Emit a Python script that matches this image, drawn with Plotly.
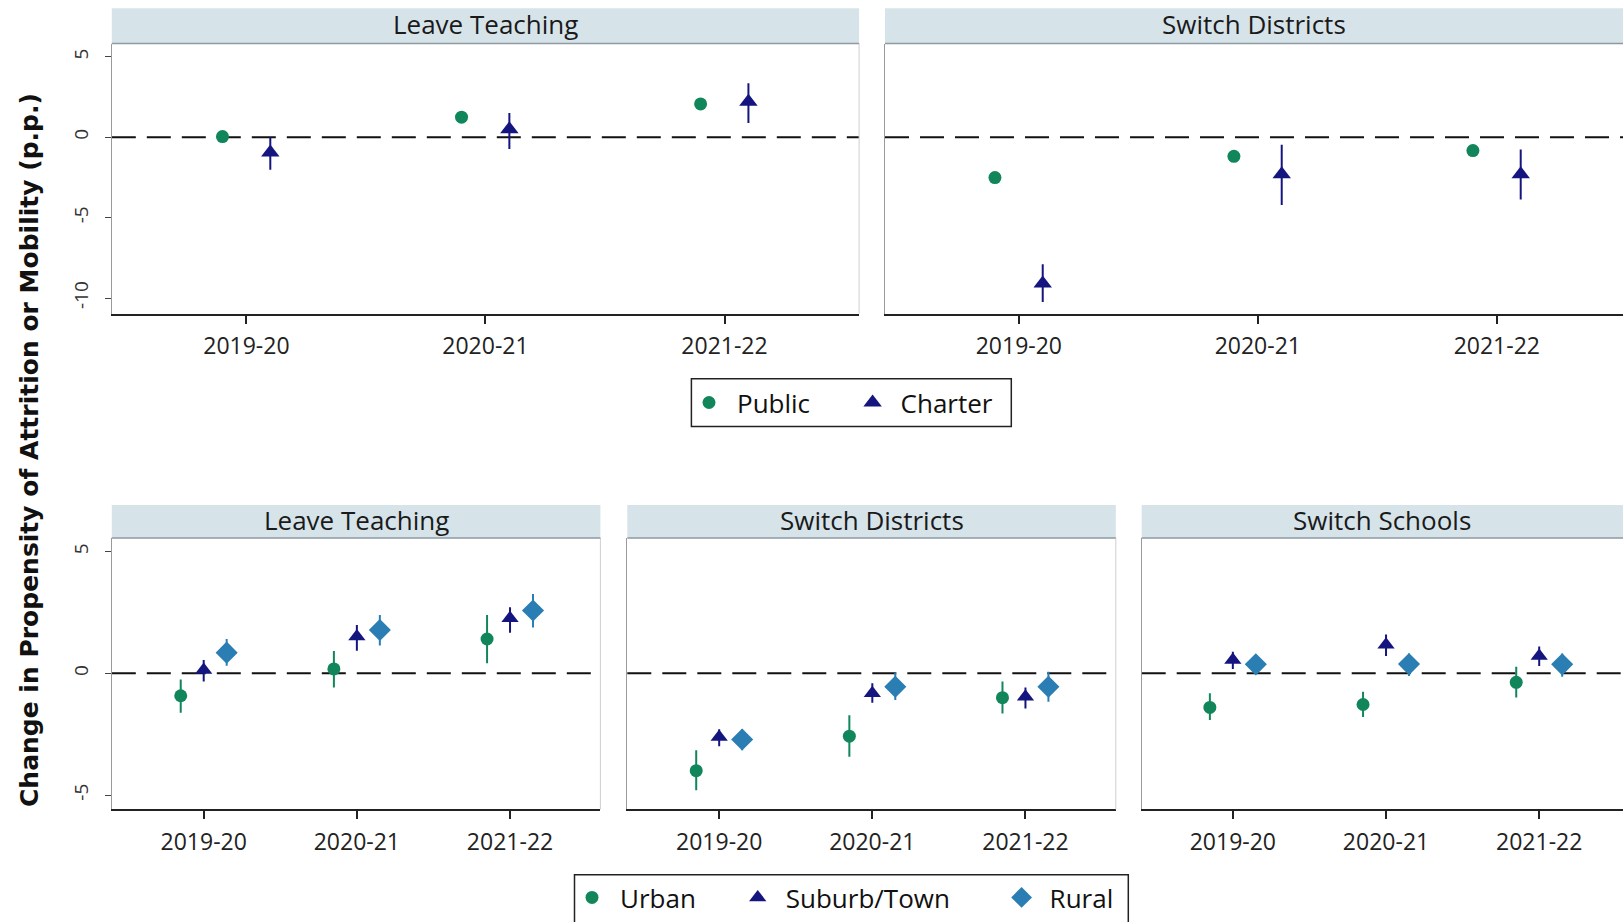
import plotly.graph_objects as go

OFF = 0  # body margin removed by post_script below
W, H = 1623, 922

years = ["2019-20", "2020-21", "2021-22"]

# ---- Top row: Public vs Charter ----
lt_public = [0.04, 1.25, 2.07]
lt_public_lo = [-0.18, 1.05, 1.87]
lt_public_hi = [0.26, 1.45, 2.27]
lt_charter = [-0.95, 0.50, 2.20]
lt_charter_lo = [-2.03, -0.73, 0.88]
lt_charter_hi = [0.00, 1.50, 3.35]

sd_public = [-2.51, -1.19, -0.83]
sd_public_lo = [-2.71, -1.39, -1.03]
sd_public_hi = [-2.31, -0.99, -0.63]
sd_charter = [-9.10, -2.30, -2.30]
sd_charter_lo = [-10.25, -4.22, -3.87]
sd_charter_hi = [-7.90, -0.46, -0.77]

# ---- Bottom row: Urban / Suburb-Town / Rural ----
lt_urban = [-0.92, 0.18, 1.41]
lt_urban_lo = [-1.62, -0.58, 0.41]
lt_urban_hi = [-0.25, 0.92, 2.40]
lt_suburb = [0.14, 1.51, 2.26]
lt_suburb_lo = [-0.34, 0.93, 1.67]
lt_suburb_hi = [0.55, 1.99, 2.72]
lt_rural = [0.85, 1.78, 2.58]
lt_rural_lo = [0.31, 1.14, 1.88]
lt_rural_hi = [1.41, 2.40, 3.26]

sdb_urban = [-4.00, -2.58, -1.00]
sdb_urban_lo = [-4.80, -3.43, -1.65]
sdb_urban_hi = [-3.16, -1.72, -0.34]
sdb_suburb = [-2.62, -0.82, -0.96]
sdb_suburb_lo = [-3.00, -1.21, -1.44]
sdb_suburb_hi = [-2.30, -0.41, -0.58]
sdb_rural = [-2.72, -0.55, -0.55]
sdb_rural_lo = [-3.16, -1.10, -1.17]
sdb_rural_hi = [-2.30, 0.03, 0.07]

ss_urban = [-1.40, -1.28, -0.37]
ss_urban_lo = [-1.92, -1.79, -0.99]
ss_urban_hi = [-0.82, -0.76, 0.27]
ss_suburb = [0.55, 1.17, 0.71]
ss_suburb_lo = [0.18, 0.71, 0.30]
ss_suburb_hi = [0.89, 1.60, 1.10]
ss_rural = [0.37, 0.38, 0.37]
ss_rural_lo = [0.00, -0.11, -0.14]
ss_rural_hi = [0.75, 0.82, 0.82]

top_titles = ["Leave Teaching", "Switch Districts"]
bot_titles = ["Leave Teaching", "Switch Districts", "Switch Schools"]
top_yticks = [5, 0, -5, -10]
bot_yticks = [5, 0, -5]

GREEN = "#11865a"
NAVY = "#15157f"
STEEL = "#2a7eb3"
STRIP = "#d6e4ea"
FONT = "Open Sans"

fig = go.Figure()


def fx(px):
    return min(max((px - OFF) / W, 0.0), 1.0)


def fy(py):
    return 1 - (py - OFF) / H


def px_x(a, b):
    return [fx(a), fx(b)]


def px_y(top, bottom):
    return [fy(bottom), fy(top)]


top_y = px_y(43.5, 313.6)
top_strip = px_y(8.3, 43.5)
bot_y = px_y(538.0, 809.4)
bot_strip = px_y(505.0, 538.0)

panels = [
    ("", px_x(111.8, 859.1), top_y, top_strip, [-0.563, 2.563], [-10.97, 5.83], top_titles[0], top_yticks),
    ("2", px_x(885.0, 1623), top_y, top_strip, [-0.56, 2.528], [-10.97, 5.83], top_titles[1], top_yticks),
    ("3", px_x(111.8, 600.4), bot_y, bot_strip, [-0.60, 2.59], [-5.59, 5.56], bot_titles[0], bot_yticks),
    ("4", px_x(627.3, 1115.8), bot_y, bot_strip, [-0.60, 2.59], [-5.59, 5.56], bot_titles[1], bot_yticks),
    ("5", px_x(1141.7, 1623), bot_y, bot_strip, [-0.595, 2.547], [-5.59, 5.56], bot_titles[2], bot_yticks),
]

layout = {}
shapes = []
annotations = []
for pid, xd, yd, sd, xr, yr, title, yt in panels:
    first = pid in ("", "3")
    layout["xaxis" + pid] = dict(
        domain=xd, range=xr, anchor="y" + pid, tickmode="array",
        tickvals=[0, 1, 2], ticktext=years, ticks="outside", ticklen=8,
        tickwidth=1.5, tickcolor="#222", showline=True, linecolor="#222",
        linewidth=2, showgrid=False, zeroline=False, fixedrange=True,
        ticklabelstandoff=3,
        tickfont=dict(family=FONT, size=23, color="#222"),
    )
    layout["yaxis" + pid] = dict(
        domain=yd, range=yr, anchor="x" + pid, tickmode="array",
        tickvals=yt, ticktext=[str(v) for v in yt],
        ticks="outside" if first else "", ticklen=6, tickcolor="#444",
        tickangle=-90, showline=True, linecolor="#9a9a9a", linewidth=1,
        showgrid=False, zeroline=False, ticklabelstandoff=9,
        tickfont=dict(family=FONT, size=19, color="#333"), fixedrange=True,
        showticklabels=first,
    )
    xdom = ("x" + pid if pid else "x") + " domain"
    ydom = ("y" + pid if pid else "y") + " domain"
    # right border of plot area (only for panels fully inside the picture)
    if xd[1] < 0.999:
        shapes.append(dict(type="line", xref=xdom, yref=ydom, x0=1, x1=1, y0=0, y1=1,
                           line=dict(color="#cfcfcf", width=1)))
    # strip
    shapes.append(dict(type="rect", xref="paper", yref="paper", x0=xd[0], x1=xd[1],
                       y0=sd[0], y1=sd[1], fillcolor=STRIP, line=dict(width=0), layer="below"))
    shapes.append(dict(type="line", xref="paper", yref="paper", x0=xd[0], x1=xd[1],
                       y0=sd[0], y1=sd[0], line=dict(color="#8e9aa3", width=1.5)))
    annotations.append(dict(text=title, xref="paper", yref="paper", x=(xd[0] + xd[1]) / 2,
                            y=(sd[0] + sd[1]) / 2, yshift=2, showarrow=False, xanchor="center",
                            yanchor="middle", font=dict(family=FONT, size=26, color="#1a1a1a")))
    # zero reference line
    shapes.append(dict(type="line", xref=xdom, yref="y" + pid if pid else "y",
                       x0=0, x1=1, y0=0, y1=0,
                       line=dict(color="#111", width=2, dash="24px,11px"), layer="below"))


def add_series(pid, vals, lo, hi, offset, name, color, symbol, size, legend, show):
    xs = [i + offset for i in range(len(vals))]
    fig.add_trace(go.Scatter(
        x=xs, y=vals, mode="markers", name=name, legend=legend, showlegend=show,
        xaxis="x" + pid, yaxis="y" + pid,
        marker=dict(color=color, symbol=symbol, size=size, line=dict(width=0)),
        error_y=dict(type="data", symmetric=False,
                     array=[h - v for h, v in zip(hi, vals)],
                     arrayminus=[v - l for v, l in zip(vals, lo)],
                     color=color, thickness=2, width=0),
    ))


# top row
add_series("", lt_public, lt_public_lo, lt_public_hi, -0.1, "Public", GREEN, "circle", 13, "legend", True)
add_series("", lt_charter, lt_charter_lo, lt_charter_hi, 0.1, "Charter", NAVY, "triangle-up", 16, "legend2", True)
add_series("2", sd_public, sd_public_lo, sd_public_hi, -0.1, "Public", GREEN, "circle", 13, "legend", False)
add_series("2", sd_charter, sd_charter_lo, sd_charter_hi, 0.1, "Charter", NAVY, "triangle-up", 16, "legend2", False)

# bottom row
bottom = [
    ("3", (lt_urban, lt_urban_lo, lt_urban_hi), (lt_suburb, lt_suburb_lo, lt_suburb_hi), (lt_rural, lt_rural_lo, lt_rural_hi)),
    ("4", (sdb_urban, sdb_urban_lo, sdb_urban_hi), (sdb_suburb, sdb_suburb_lo, sdb_suburb_hi), (sdb_rural, sdb_rural_lo, sdb_rural_hi)),
    ("5", (ss_urban, ss_urban_lo, ss_urban_hi), (ss_suburb, ss_suburb_lo, ss_suburb_hi), (ss_rural, ss_rural_lo, ss_rural_hi)),
]
for k, (pid, u, s, r) in enumerate(bottom):
    show = k == 0
    add_series(pid, *u, -0.15, "Urban", GREEN, "circle", 13, "legend3", show)
    add_series(pid, *s, 0.0, "Suburb/Town", NAVY, "triangle-up", 15, "legend4", show)
    add_series(pid, *r, 0.15, "Rural", STEEL, "diamond", 17, "legend5", show)

annotations.append(dict(
    text="<b>Change in Propensity of Attrition or Mobility (p.p.)</b>",
    xref="paper", yref="paper", x=fx(29), y=fy(450), textangle=-90,
    showarrow=False, xanchor="center", yanchor="middle",
    font=dict(family="DejaVu Sans", size=25, color="#111"),
))

# legend boxes (full-image pixel coordinates)
shapes.append(dict(type="rect", xref="paper", yref="paper", x0=fx(691.4), x1=fx(1011.3),
                   y0=fy(426.5), y1=fy(378.8), line=dict(color="#222", width=1.5),
                   fillcolor="rgba(0,0,0,0)"))
shapes.append(dict(type="rect", xref="paper", yref="paper", x0=fx(574.5), x1=fx(1128.3),
                   y0=-0.02, y1=fy(874.7), line=dict(color="#222", width=1.5),
                   fillcolor="rgba(0,0,0,0)"))

IW = 46
SYM_C = 5 + IW / 2  # symbol centre offset inside a legend item


def leg(marker_px, center_py):
    return dict(orientation="h", x=fx(marker_px - SYM_C), y=fy(center_py), xanchor="left",
                yanchor="middle", borderwidth=0, bgcolor="rgba(0,0,0,0)",
                font=dict(family=FONT, size=26, color="#111"),
                itemsizing="trace", itemwidth=IW)


fig.update_layout(
    width=W, height=H, margin=dict(l=0, r=0, t=0, b=0),
    paper_bgcolor="white", plot_bgcolor="white",
    shapes=shapes, annotations=annotations,
    legend=leg(709.0, 402.6),
    legend2=leg(872.6, 402.6),
    legend3=leg(592.0, 897.5),
    legend4=leg(757.7, 897.5),
    legend5=leg(1021.6, 897.5),
    **layout,
)

fig.write_html(
    "out.html",
    config={"displayModeBar": False},
    post_script="document.body.style.margin='0';document.body.style.overflow='hidden';"
                "document.documentElement.style.overflow='hidden';",
)
